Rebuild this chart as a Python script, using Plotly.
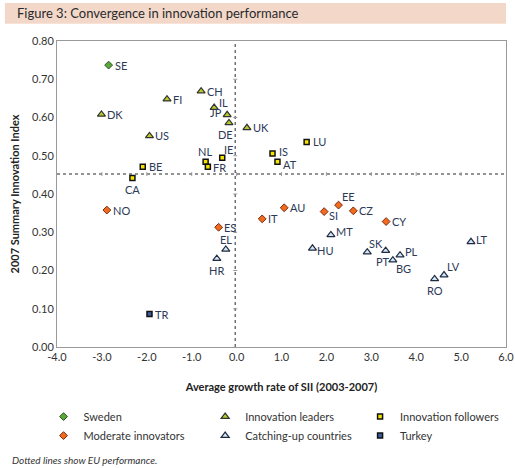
import plotly.graph_objects as go

# ---- data ----
sweden_codes = ["SE"]
sweden_x = [-2.85]
sweden_y = [0.737]

leaders_codes = ["CH", "FI", "IL", "DK", "JP", "DE", "UK", "US"]
leaders_x = [-0.79, -1.55, -0.50, -3.01, -0.21, -0.17, 0.23, -1.94]
leaders_y = [0.669, 0.648, 0.626, 0.608, 0.607, 0.586, 0.573, 0.552]

followers_codes = ["LU", "IS", "IE", "NL", "AT", "FR", "BE", "CA"]
followers_x = [1.56, 0.80, -0.32, -0.69, 0.91, -0.64, -2.09, -2.32]
followers_y = [0.536, 0.506, 0.495, 0.484, 0.484, 0.471, 0.471, 0.442]

moderate_codes = ["EE", "AU", "NO", "CZ", "SI", "IT", "CY", "ES"]
moderate_x = [2.27, 1.06, -2.89, 2.60, 1.95, 0.57, 3.33, -0.40]
moderate_y = [0.371, 0.364, 0.358, 0.356, 0.354, 0.335, 0.328, 0.313]

catching_codes = ["MT", "LT", "HU", "EL", "PT", "SK", "PL", "HR", "BG", "LV", "RO"]
catching_x = [2.10, 5.22, 1.69, -0.24, 3.32, 2.91, 3.64, -0.44, 3.48, 4.62, 4.41]
catching_y = [0.293, 0.275, 0.258, 0.255, 0.252, 0.248, 0.240, 0.231, 0.227, 0.188, 0.178]

turkey_codes = ["TR"]
turkey_x = [-1.94]
turkey_y = [0.086]

eu_growth = -0.03
eu_sii = 0.452

x_ticks = [-4, -3, -2, -1, 0, 1, 2, 3, 4, 5, 6]
y_ticks = [0.0, 0.1, 0.2, 0.3, 0.4, 0.5, 0.6, 0.7, 0.8]

# ---- label placement (style only) ----
# placement: (xanchor, yanchor, xshift, yshift)
R = ("left", "middle", 4, 0)
placement = {
    "IL": ("left", "middle", 3, 5), "JP": ("right", "middle", -3, 2),
    "DE": ("center", "top", -3, -3), "CA": ("center", "top", 0, -3),
    "NL": ("center", "bottom", -1, 2), "IE": ("left", "bottom", 0, 0),
    "FR": ("left", "middle", 3, -1), "EE": ("left", "bottom", 1, 0),
    "SI": ("left", "middle", 3, -4), "PT": ("center", "top", -3, -2),
    "BG": ("left", "top", 1, 0), "SK": ("left", "bottom", 0, 0),
    "PL": ("left", "middle", 3, 4), "MT": ("left", "middle", 3, 3),
    "HU": ("left", "middle", 3, -2), "LV": ("left", "bottom", 1, 0),
    "RO": ("center", "top", 0, -3), "LT": ("left", "middle", 3, 2),
    "EL": ("center", "bottom", 0, 1), "HR": ("center", "top", 0, -3),
    "IS": ("left", "middle", 4, 2), "AT": ("left", "middle", 4, -3),
    "ES": ("left", "middle", 3, 0),
}

FONT = "Lato"
LABEL_COLOR = "#2d3957"

fig = go.Figure()

def add_group(name, codes, xs, ys, symbol, fill, line, size, lw, legend):
    fig.add_trace(go.Scatter(
        x=xs, y=ys, text=codes, name=name, mode="markers",
        hovertemplate="%{text}: (%{x}, %{y})<extra></extra>",
        marker=dict(symbol=symbol, color=fill, size=size,
                    line=dict(color=line, width=lw)),
        legend=legend, cliponaxis=False,
    ))
    for c, x, y in zip(codes, xs, ys):
        xa, ya, xs_, ys_ = placement.get(c, R)
        fig.add_annotation(x=x, y=y, xref="x", yref="y", text=c, showarrow=False,
                           xanchor=xa, yanchor=ya, xshift=xs_, yshift=ys_,
                           font=dict(family=FONT, size=11, color=LABEL_COLOR))

add_group("Sweden", sweden_codes, sweden_x, sweden_y,
          "diamond", "#5aa838", "#2f4f2a", 6, 1, "legend")
add_group("Moderate innovators", moderate_codes, moderate_x, moderate_y,
          "diamond", "#f26b1d", "#7a2a10", 6, 1, "legend")
add_group("Innovation leaders", leaders_codes, leaders_x, leaders_y,
          "triangle-up", "#b8cc2a", "#333333", 7, 1.2, "legend2")
add_group("Catching-up countries", catching_codes, catching_x, catching_y,
          "triangle-up", "#cfe7f7", "#222a40", 7, 1.2, "legend2")
add_group("Innovation followers", followers_codes, followers_x, followers_y,
          "square", "#f5e400", "#111111", 5, 1.5, "legend3")
add_group("Turkey", turkey_codes, turkey_x, turkey_y,
          "square", "#3a5ea0", "#111111", 5, 1.5, "legend3")

# EU reference dotted lines (acting as crossing axes, with small tick marks)
fig.add_shape(type="line", xref="x", yref="paper", x0=eu_growth, x1=eu_growth, y0=0, y1=1,
              line=dict(color="#707070", width=1.5, dash="dot"), layer="below")
fig.add_shape(type="line", xref="paper", yref="y", x0=0, x1=1, y0=eu_sii, y1=eu_sii,
              line=dict(color="#707070", width=1.5, dash="dot"), layer="below")
for yt in y_ticks[1:-1]:
    fig.add_shape(type="line", xref="x", yref="y", xsizemode="pixel", xanchor=eu_growth,
                  x0=-2, x1=2, y0=yt, y1=yt, line=dict(color="#9a9a9a", width=1),
                  layer="below")
for xt in x_ticks[1:-1]:
    fig.add_shape(type="line", xref="x", yref="y", ysizemode="pixel", yanchor=eu_sii,
                  y0=-2, y1=2, x0=xt, x1=xt, line=dict(color="#9a9a9a", width=1),
                  layer="below")

# title band
fig.add_shape(type="rect", xref="paper", yref="paper", x0=-0.116, x1=1.0, y0=1.056, y1=1.124,
              fillcolor="#f3d8ca", line=dict(width=0), layer="below")
fig.add_annotation(text="Figure 3: Convergence in innovation performance",
                   xref="paper", yref="paper", x=-0.094, y=1.09, xanchor="left", yanchor="middle",
                   showarrow=False, font=dict(family=FONT, size=13, color="#2a2a2a"))
fig.add_annotation(text="<i>Dotted lines show EU performance.</i>",
                   xref="paper", yref="paper", x=-0.105, y=-0.369, xanchor="left", yanchor="middle",
                   showarrow=False, font=dict(family=FONT, size=10, color="#333333"))

axis_common = dict(showgrid=False, zeroline=False, showline=True, linecolor="#9a9a9a",
                   linewidth=1, mirror=True, ticks="",
                   tickfont=dict(family=FONT, size=11, color="#333333"))

legend_common = dict(yanchor="top", xanchor="left", orientation="v",
                     font=dict(family=FONT, size=11, color="#333333"),
                     bgcolor="rgba(0,0,0,0)", borderwidth=0)

fig.update_layout(
    width=515, height=468,
    margin=dict(l=57, r=9, t=41, b=121, autoexpand=False),
    paper_bgcolor="white", plot_bgcolor="white",
    font=dict(family=FONT, color="#333333"),
    xaxis=dict(range=[-4, 6], tickvals=x_ticks, ticktext=[f"{v:.1f}" for v in x_ticks],
               title=dict(text="<b>Average growth rate of SII (2003-2007)</b>",
                          font=dict(family=FONT, size=11, color="#222222"), standoff=21),
               **axis_common),
    yaxis=dict(range=[0, 0.8], tickvals=y_ticks, ticktext=[f"{v:.2f}" for v in y_ticks],
               title=dict(text="<b>2007 Summary Innovation Index</b>",
                          font=dict(family=FONT, size=11, color="#222222"), standoff=10),
               **axis_common),
    legend=dict(x=-0.03, y=-0.18, **legend_common),
    legend2=dict(x=0.33, y=-0.18, **legend_common),
    legend3=dict(x=0.675, y=-0.18, **legend_common),
    showlegend=True,
)

fig.write_html("out.html", config={"displayModeBar": False},
               post_script="document.body.style.margin='0';")
